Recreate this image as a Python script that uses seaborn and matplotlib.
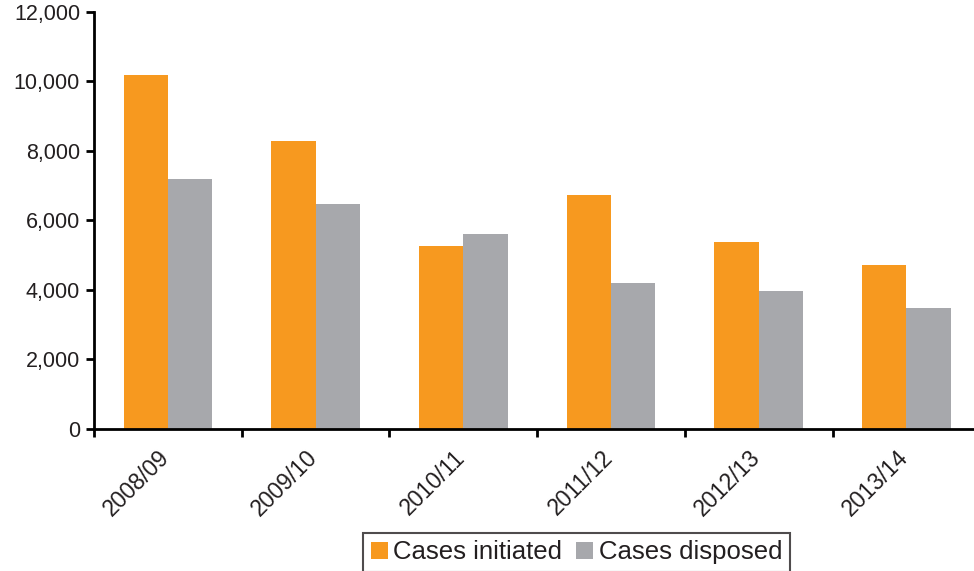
import pandas as pd
import seaborn as sns
import matplotlib.pyplot as plt
import matplotlib.transforms as mtransforms
from matplotlib.ticker import FuncFormatter, FixedLocator

# Datos
years = ['2008/09', '2009/10', '2010/11', '2011/12', '2012/13', '2013/14']
initiated = [10190, 8290, 5270, 6730, 5380, 4720]
disposed = [7190, 6480, 5610, 4200, 3970, 3480]
series_names = ['Cases initiated', 'Cases disposed']
colors = ['#F7991F', '#A7A8AC']

df = pd.DataFrame({
    'year': years * 2,
    'cases': initiated + disposed,
    'series': [series_names[0]] * len(years) + [series_names[1]] * len(years),
})

sns.set_style('white')
plt.rcParams['font.family'] = ['Liberation Sans', 'DejaVu Sans']
text_color = '#231F20'

fig = plt.figure(figsize=(9.74, 5.71), dpi=100)
ax = fig.add_axes([0.0965, 0.2487, 0.91, 0.7303])

sns.barplot(data=df, x='year', y='cases', hue='series', palette=colors,
            width=0.6, gap=0, saturation=1, linewidth=0, ax=ax, legend=True)

ax.set_xlim(-0.5, len(years) - 0.5)
ax.set_ylim(0, 12000)
ax.set_yticks(range(0, 12001, 2000))
ax.yaxis.set_major_formatter(FuncFormatter(lambda v, p: f'{int(v):,}'))
ax.set_xlabel('')
ax.set_ylabel('')

for side in ['top', 'right']:
    ax.spines[side].set_visible(False)
for side in ['left', 'bottom']:
    ax.spines[side].set_color('black')
    ax.spines[side].set_linewidth(2)

ax.tick_params(axis='y', which='major', direction='out', length=6, width=2,
               color='black', labelsize=15.5, labelcolor=text_color, pad=4, left=True)
ax.tick_params(axis='x', which='major', length=0, labelsize=16.5,
               labelcolor=text_color, pad=8)
ax.xaxis.set_minor_locator(FixedLocator([i - 0.5 for i in range(len(years) + 1)]))
ax.tick_params(axis='x', which='minor', direction='out', length=6, width=2,
               color='black', bottom=True)
shift = mtransforms.ScaledTranslation(-10 / 100, -6 / 100, fig.dpi_scale_trans)
for lbl in ax.get_xticklabels():
    lbl.set_rotation(45)
    lbl.set_ha('right')
    lbl.set_rotation_mode('anchor')
    lbl.set_transform(lbl.get_transform() + shift)

ax.get_legend().remove()
handles, labels = ax.get_legend_handles_labels()
leg = fig.legend(handles, labels, loc='center', bbox_to_anchor=(0.592, 0.0324),
                 ncol=2, frameon=True, fancybox=False, fontsize=18.5,
                 handlelength=0.66, handleheight=0.66, handletextpad=0.2,
                 columnspacing=0.55, borderpad=0.3, borderaxespad=0)
leg.get_frame().set_edgecolor('#231F20')
leg.get_frame().set_linewidth(1.5)
for t in leg.get_texts():
    t.set_color(text_color)

plt.savefig('out.png', dpi=100)
